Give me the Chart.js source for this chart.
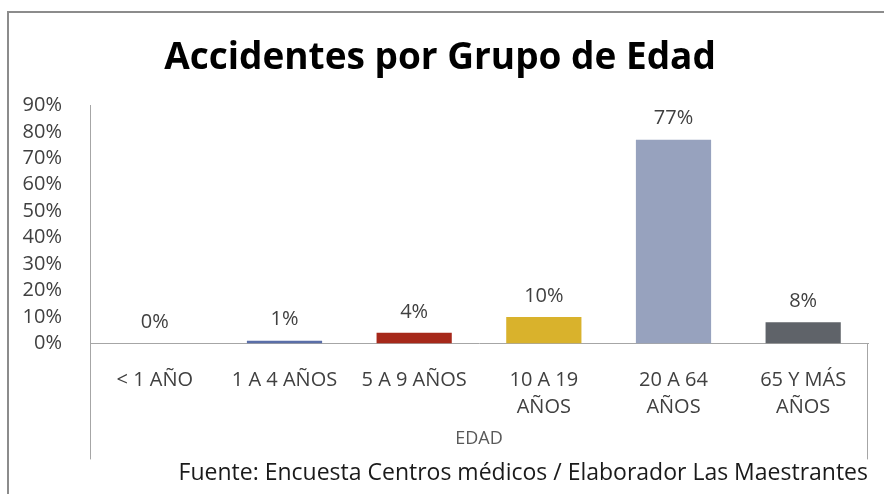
<!DOCTYPE html>
<html>
<head>
<meta charset="utf-8">
<script src="https://cdn.jsdelivr.net/npm/chart.js@4.4.0/dist/chart.umd.min.js"></script>
<style>
html,body{margin:0;padding:0;background:#fff;overflow:hidden}
#wrap{position:relative;width:884px;height:494px}
#frame{position:absolute;left:7px;top:11px;width:900px;height:520px;border-left:2px solid #8c8c8c;border-top:2px solid #8c8c8c}
canvas{position:absolute;left:0;top:0}
</style>
</head>
<body>
<div id="wrap"><div id="frame"></div><canvas id="chart" width="884" height="494"></canvas></div>
<script>
/* data */
const titleText = "Accidentes por Grupo de Edad";
const sourceText = "Fuente: Encuesta Centros médicos / Elaborador Las Maestrantes";
const axisTitle = "EDAD";
const categories = ["< 1 AÑO", "1 A 4 AÑOS", "5 A 9 AÑOS", ["10 A 19", "AÑOS"], ["20 A 64", "AÑOS"], ["65 Y MÁS", "AÑOS"]];
const percents = [0, 1, 4, 10, 77, 8];
const yMax = 90, yStep = 10;
const barColors = ["#4a66a8", "#5a6ea8", "#a6281a", "#d9b22c", "#97a2be", "#5f6369"];

const FONT = "'Open Sans', sans-serif";
const TEXT = "#404040";
const LINE = "#a6a6a6";

// % above each bar
const valueLabels = {
    id: "valueLabels",
    afterDatasetsDraw(chart) {
        const ctx = chart.ctx;
        const meta = chart.getDatasetMeta(0);
        ctx.save();
        ctx.font = "20px " + FONT;
        ctx.fillStyle = TEXT;
        ctx.textAlign = "center";
        ctx.textBaseline = "middle";
        meta.data.forEach((bar, i) => ctx.fillText(percents[i] + "%", bar.x, bar.y - 21));
        ctx.restore();
    }
};

// vertical lines framing the category labels
const axisBox = {
    id: "axisBox",
    afterDraw(chart) {
        const {ctx, chartArea: a, scales: {x}} = chart;
        ctx.save();
        ctx.strokeStyle = LINE;
        ctx.lineWidth = 1;
        ctx.beginPath();
        ctx.moveTo(a.left + 0.5, a.bottom); ctx.lineTo(a.left + 0.5, x.bottom + 3);
        ctx.moveTo(a.right - 0.5, a.bottom); ctx.lineTo(a.right - 0.5, x.bottom + 3);
        ctx.stroke();
        ctx.restore();
    }
};

new Chart(document.getElementById("chart"), {
    type: "bar",
    data: {
        labels: categories,
        datasets: [{
            data: percents,
            backgroundColor: barColors,
            barPercentage: 0.58,
            categoryPercentage: 1
        }]
    },
    options: {
        responsive: false,
        animation: false,
        layout: {padding: {left: 12, right: 16, top: 0, bottom: 0}},
        scales: {
            x: {
                grid: {display: false},
                border: {display: true, color: LINE},
                ticks: {font: {family: FONT, size: 20, lineHeight: 1.33}, color: TEXT, padding: 16, maxRotation: 0, autoSkip: false},
                title: {display: true, text: axisTitle, font: {family: FONT, size: 18}, color: "#595959", padding: {top: 0, bottom: 7}},
                afterFit(s) { s.height = 113; }
            },
            y: {
                min: 0, max: yMax,
                grid: {display: false},
                border: {display: true, color: LINE},
                ticks: {stepSize: yStep, autoSkip: false, callback: v => v + "%", font: {family: FONT, size: 20}, color: TEXT, padding: 20},
                afterFit(s) { s.width = 78; }
            }
        },
        plugins: {
            legend: {display: false},
            tooltip: {enabled: false},
            title: {display: true, text: titleText, color: "#000", font: {family: FONT, size: 37, weight: "bold", lineHeight: 1.2}, padding: {top: 36, bottom: 25}},
            subtitle: {display: true, text: sourceText, position: "bottom", align: "end", color: "#1a1a1a", font: {family: FONT, size: 23, lineHeight: 1.2}, padding: {top: 3, bottom: 7}}
        }
    },
    plugins: [valueLabels, axisBox]
});
</script>
</body>
</html>
